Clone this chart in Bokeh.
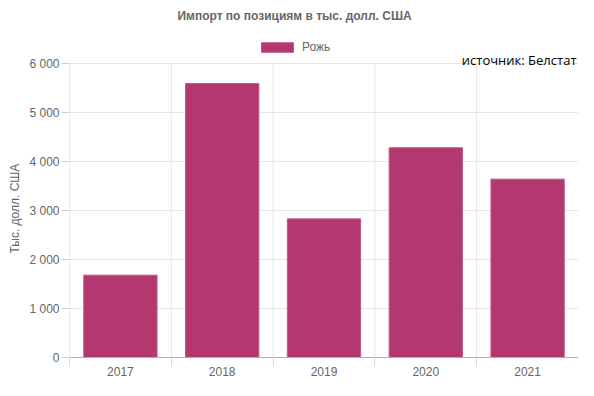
from bokeh.plotting import figure
from bokeh.models import (FixedTicker, Range1d, Label, Legend, LegendItem,
                          ColumnDataSource, Title)
from bokeh.embed import file_html
from bokeh.resources import INLINE

# ---- data ----
years = ["2017", "2018", "2019", "2020", "2021"]
values = [1680, 5590, 2830, 4280, 3640]
y_ticks = [0, 1000, 2000, 3000, 4000, 5000, 6000]
y_tick_labels = ["0", "1 000", "2 000", "3 000", "4 000", "5 000", "6 000"]
series_name = "Рожь"
title_text = "Импорт по позициям в тыс. долл. США"
y_axis_title = "Тыс. долл. США"
source_note = "источник: Белстат"

FONT = "Liberation Sans"
GREY = "#666666"
BAR = "#b3386f"
GRID = "#e6e6e6"

W, H = 578, 380
LEFT, BOTTOM = 68, 23          # frame borders (px)
FRAME_H = H - BOTTOM           # frame spans from canvas top to axis
DATA_TOP = 63                  # pixel row of the top tick
y_max = y_ticks[-1] * FRAME_H / (FRAME_H - DATA_TOP)

n = len(years)
centers = [i + 0.5 for i in range(n)]
bounds = [float(i) for i in range(n + 1)]
src = ColumnDataSource(dict(x=centers, top=values, year=years))
vsrc = ColumnDataSource(dict(x=bounds, y0=[y_ticks[0]] * (n + 1),
                             y1=[y_ticks[-1]] * (n + 1),
                             c=["#d6d6d6"] + [GRID] * n))

p = figure(width=W, height=H, output_backend="svg", toolbar_location=None,
           x_range=Range1d(0, n), y_range=Range1d(y_ticks[0], y_max),
           min_border_left=LEFT, min_border_right=0, min_border_top=0,
           min_border_bottom=BOTTOM)
p.title.visible = False
p.outline_line_color = None
p.background_fill_color = "white"
p.border_fill_color = "white"

# vertical grid lines at category bounds (only over the data area)
p.segment(x0="x", y0="y0", x1="x", y1="y1", source=vsrc, line_color="c",
          line_width=1)

r = p.vbar(x="x", top="top", bottom=0, width=0.72, source=src,
           fill_color=BAR, line_color="#c25585", line_width=1)

# x axis: labels at centres, tick marks at category bounds
xt = FixedTicker(ticks=centers, minor_ticks=bounds)
p.xaxis.ticker = xt
p.xaxis.major_label_overrides = {c: y for c, y in zip(centers, years)}
p.xaxis.major_tick_out = 0
p.xaxis.major_tick_in = 0
p.xaxis.minor_tick_out = 9
p.xaxis.minor_tick_in = 0
p.xaxis.minor_tick_line_color = "#dcdcdc"
p.xaxis.axis_line_color = "#b0b0b0"
p.xaxis.major_label_standoff = 0
p.xaxis.major_label_text_font = FONT
p.xaxis.major_label_text_font_size = "12px"
p.xaxis.major_label_text_color = GREY
p.xgrid.grid_line_color = None

# y axis
yt = FixedTicker(ticks=y_ticks, minor_ticks=[])
p.yaxis.ticker = yt
p.yaxis.major_label_overrides = {t: s for t, s in zip(y_ticks, y_tick_labels)}
p.yaxis.major_tick_out = 8
p.yaxis.major_tick_in = 0
p.yaxis.minor_tick_out = 0
p.yaxis.minor_tick_in = 0
p.yaxis.major_tick_line_color = "#d0d0d0"
p.yaxis.axis_line_color = None
p.yaxis.major_label_standoff = 2
p.yaxis.major_label_text_font = FONT
p.yaxis.major_label_text_font_size = "12px"
p.yaxis.major_label_text_color = GREY
p.ygrid.ticker = yt
p.ygrid.grid_line_color = GRID

# y axis title (side panel, shifted to the data area's middle)
p.add_layout(Title(text=y_axis_title, align="left", offset=104,
                   text_font=FONT, text_font_size="12px",
                   text_font_style="normal", text_color=GREY, standoff=10),
             "left")

# chart title
p.add_layout(Label(x=293 - LEFT, y=FRAME_H - 15, x_units="screen",
                   y_units="screen", text=title_text, text_align="center",
                   text_baseline="middle", text_font=FONT,
                   text_font_size="12px", text_font_style="bold",
                   text_color=GREY))

# source note
p.add_layout(Label(x=575 - LEFT, y=FRAME_H - 59, x_units="screen",
                   y_units="screen", text=source_note, text_align="right",
                   text_baseline="alphabetic", text_font="Open Sans",
                   text_font_size="13px", text_color="black"))

# legend
legend = Legend(items=[LegendItem(label=series_name, renderers=[r])],
                location=(256 - LEFT, FRAME_H - 54), orientation="horizontal",
                glyph_width=40, glyph_height=12, label_height=12,
                label_standoff=5, padding=0, margin=0, spacing=0,
                border_line_color=None, background_fill_alpha=0,
                label_text_font=FONT, label_text_font_size="12px",
                label_text_color=GREY)
p.add_layout(legend, "center")

open("out.html", "w").write(file_html(p, INLINE))
